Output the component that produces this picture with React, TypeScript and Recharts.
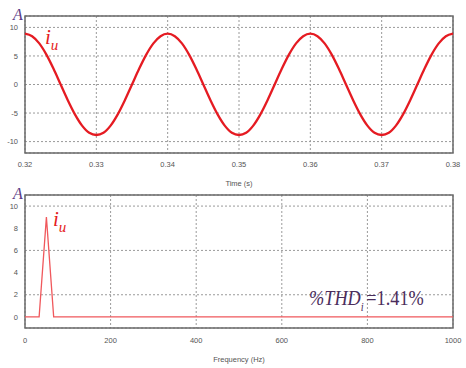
import React from 'react';
import { LineChart, Line, XAxis, YAxis, CartesianGrid, ReferenceArea } from 'recharts';

// time-domain current (A), sampled every 1 ms from 0.32 s to 0.38 s
const timeStart = 0.32;
const timeStep = 0.001;
const currentValues = [
  8.9, 8.46, 7.2, 5.23, 2.75, 0, -2.75, -5.23, -7.2, -8.46,
  -8.85, -8.46, -7.2, -5.23, -2.75, 0, 2.75, 5.23, 7.2, 8.46,
  8.9, 8.46, 7.2, 5.23, 2.75, 0, -2.75, -5.23, -7.2, -8.46,
  -8.85, -8.46, -7.2, -5.23, -2.75, 0, 2.75, 5.23, 7.2, 8.46,
  8.9, 8.46, 7.2, 5.23, 2.75, 0, -2.75, -5.23, -7.2, -8.46,
  -8.85, -8.46, -7.2, -5.23, -2.75, 0, 2.75, 5.23, 7.2, 8.46,
  8.9,
];
const timeTicks = [0.32, 0.33, 0.34, 0.35, 0.36, 0.37, 0.38];
const currentTicks = [-10, -5, 0, 5, 10];

// spectrum
const freqPoints = [0, 33, 50, 67, 1000];
const ampPoints = [0, 0, 9.0, 0, 0];
const freqTicks = [0, 200, 400, 600, 800, 1000];
const ampTicks = [0, 2, 4, 6, 8, 10];

const timeData = currentValues.map((v, i) => ({
  t: +(timeStart + i * timeStep).toFixed(3),
  i: v,
}));
const specData = freqPoints.map((f, i) => ({ f, a: ampPoints[i] }));

const tickStyle = { fill: '#555', fontSize: 7.5, fontFamily: 'Liberation Sans, Arial, sans-serif' };
const gridColor = '#9a9a9a';
const borderColor = '#6a6a6a';
const purple = '#5b3c86';
const red = '#e51b22';

const serif = '"Liberation Serif", "Times New Roman", serif';

const IuLabel = ({ left, top }: { left: number; top: number }) => (
  <div
    style={{
      position: 'absolute',
      left,
      top,
      color: red,
      fontFamily: serif,
      fontStyle: 'italic',
      fontSize: 21,
      lineHeight: 1,
    }}
  >
    i<span style={{ fontSize: 15, position: 'relative', top: 6 }}>u</span>
  </div>
);

const AxisA = ({ left, top }: { left: number; top: number }) => (
  <div
    style={{
      position: 'absolute',
      left,
      top,
      color: purple,
      fontFamily: serif,
      fontStyle: 'italic',
      fontSize: 16,
      lineHeight: 1,
    }}
  >
    A
  </div>
);

const App: React.FC = () => {
  return (
    <div style={{ position: 'absolute', left: 0, top: 0, width: 466, height: 368, background: '#fff' }}>
      <div style={{ position: 'absolute', left: 0, top: 0 }}>
        <LineChart width={466} height={190} data={timeData} margin={{ top: 16, right: 13, left: 0, bottom: 0 }}>
          <CartesianGrid stroke={gridColor} strokeDasharray="2 2" />
          <XAxis
            dataKey="t"
            type="number"
            domain={[0.32, 0.38]}
            ticks={timeTicks}
            tickFormatter={(v: number) => v.toFixed(2)}
            tick={tickStyle}
            tickLine={false}
            axisLine={false}
            tickSize={4}
            tickMargin={5}
            height={37}
            label={{ value: 'Time (s)', position: 'insideBottom', offset: 4, fill: '#555', fontSize: 7.5, fontFamily: 'Liberation Sans, Arial, sans-serif' }}
          />
          <YAxis
            type="number"
            domain={[-12, 12]}
            ticks={currentTicks}
            tick={tickStyle}
            tickLine={false}
            axisLine={false}
            tickSize={4}
            tickMargin={3}
            width={25}
          />
          <ReferenceArea x1={0.32} x2={0.38} y1={-12} y2={12} fill="none" stroke={borderColor} strokeWidth={1.5} />
          <Line
            type="monotone"
            dataKey="i"
            stroke={red}
            strokeWidth={2.3}
            dot={false}
            isAnimationActive={false}
          />
        </LineChart>
      </div>
      <AxisA left={13} top={7} />
      <IuLabel left={45} top={27} />

      <div style={{ position: 'absolute', left: 0, top: 180 }}>
        <LineChart width={466} height={188} data={specData} margin={{ top: 15, right: 13, left: 0, bottom: 0 }}>
          <CartesianGrid stroke={gridColor} strokeDasharray="2 2" />
          <XAxis
            dataKey="f"
            type="number"
            domain={[0, 1000]}
            ticks={freqTicks}
            tick={tickStyle}
            tickLine={false}
            axisLine={false}
            tickSize={4}
            tickMargin={6}
            height={40}
            label={{ value: 'Frequency (Hz)', position: 'insideBottom', offset: 6, fill: '#555', fontSize: 7.5, fontFamily: 'Liberation Sans, Arial, sans-serif' }}
          />
          <YAxis
            type="number"
            domain={[-1, 11]}
            ticks={ampTicks}
            tick={tickStyle}
            tickLine={false}
            axisLine={false}
            tickSize={4}
            tickMargin={3}
            width={25}
          />
          <ReferenceArea x1={0} x2={1000} y1={-1} y2={11} fill="none" stroke={borderColor} strokeWidth={1.5} />
          <Line
            type="linear"
            dataKey="a"
            stroke="#f0585c"
            strokeWidth={1.3}
            dot={false}
            isAnimationActive={false}
          />
        </LineChart>
      </div>
      <AxisA left={13} top={186} />
      <IuLabel left={53} top={209} />

      <div
        style={{
          position: 'absolute',
          left: 309,
          top: 288,
          color: '#4a2d5c',
          fontFamily: serif,
          fontSize: 21,
          lineHeight: 1,
          whiteSpace: 'nowrap',
          transform: 'scaleX(0.87)',
          transformOrigin: 'left top',
        }}
      >
        <span style={{ fontStyle: 'italic' }}>%THD</span>
        <span style={{ fontStyle: 'italic', fontSize: 12, position: 'relative', top: 6 }}>i</span>
        <span style={{ marginLeft: 3 }}>=1.41%</span>
      </div>
    </div>
  );
};

export default App;
